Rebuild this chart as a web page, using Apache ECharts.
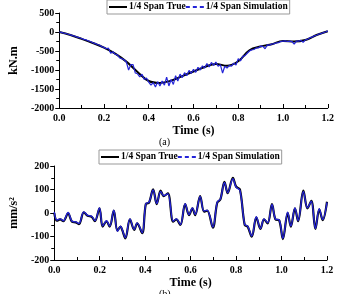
<!DOCTYPE html>
<html>
<head>
<meta charset="utf-8">
<script src="https://cdn.jsdelivr.net/npm/echarts@6/dist/echarts.min.js"></script>
<style>
html, body { margin: 0; padding: 0; background: #fff; }
#chart { width: 337px; height: 294px; }
</style>
</head>
<body>
<div id="chart"></div>
<script>
// (a) moment, kN.m
let momentTrueTime = [0, 0.05, 0.1, 0.15, 0.2, 0.25, 0.3, 0.35, 0.4, 0.45, 0.5, 0.55, 0.6,
    0.65, 0.7, 0.75, 0.8, 0.85, 0.9, 0.95, 1.0, 1.05, 1.1, 1.15, 1.2];
let momentTrue = [0, -80, -180, -290, -410, -570, -780, -1050, -1290, -1340, -1280, -1160, -1040,
    -920, -840, -890, -770, -480, -380, -320, -240, -250, -210, -80, 20];
// simulation sampled every 0.01 s
let momentSim = [
    0, -10, -30, -40, -60, -75, -95, -110, -135, -150,
    -170, -195, -205, -235, -250, -285, -300, -330, -345, -385,
    -405, -440, -425, -560, -520, -585, -600, -680, -700, -730,
    -790, -1000, -860, -860, -1080, -1100, -1180, -1110, -1250, -1210,
    -1320, -1400, -1330, -1450, -1310, -1420, -1290, -1400, -1190, -1420,
    -1250, -1380, -1150, -1290, -1110, -1200, -1070, -1150, -1010, -1090,
    -980, -1060, -930, -1000, -890, -950, -830, -920, -800, -880,
    -790, -900, -860, -1080, -900, -950, -880, -900, -820, -870,
    -700, -760, -640, -620, -560, -500, -470, -460, -420, -420,
    -370, -380, -440, -340, -345, -315, -310, -285, -280, -250,
    -240, -235, -250, -240, -250, -320, -240, -240, -220, -270,
    -205, -190, -150, -135, -100, -85, -55, -45, -15, 0,
    30];

// (b) acceleration, mm/s2
let accTime = [0, 0.012, 0.026, 0.04, 0.061, 0.078, 0.095, 0.109, 0.13, 0.147, 0.165, 0.179,
    0.199, 0.213, 0.23, 0.244, 0.262, 0.278, 0.292, 0.299, 0.313, 0.333, 0.352, 0.365,
    0.387, 0.403, 0.417, 0.435, 0.451, 0.468, 0.482, 0.5, 0.523, 0.537, 0.555, 0.576,
    0.593, 0.608, 0.62, 0.642, 0.659, 0.673, 0.698, 0.717, 0.731, 0.749, 0.763, 0.786,
    0.8, 0.817, 0.838, 0.851, 0.869, 0.889, 0.907, 0.923, 0.939, 0.958, 0.973, 0.99,
    1.006, 1.027, 1.041, 1.059, 1.073, 1.096, 1.114, 1.131, 1.149, 1.166, 1.181, 1.2];
let accTrue = [0, -33, -27, -35, -1, -37, -40, -47, 3, -12, -16, -35,
    20, -58, -35, -58, 10, -75, -58, -72, -108, -27, -72, -44,
    -86, 38, 44, 101, 38, 95, 72, 84, -37, -27, -51, 38,
    -9, 20, -9, 72, 6, 10, -62, 44, 58, 133, 84, 150,
    112, 100, -51, -58, -101, -18, -68, -27, -44, 38, -27, -32,
    -111, 1, -58, 20, -35, 95, 20, 52, -68, 16, -30, 48];
let accSim = [5, -30, -25, -33, 2, -35, -38, -45, 5, -10, -14, -33,
    22, -55, -33, -56, 12, -78, -56, -70, -105, -25, -70, -42,
    -84, 40, 46, 98, 40, 92, 74, 82, -35, -25, -49, 40,
    -7, 22, -7, 70, 8, 12, -60, 46, 60, 130, 86, 146,
    110, 96, -49, -56, -98, -16, -66, -25, -42, 36, -25, -30,
    -108, 3, -56, 22, -33, 92, 22, 50, -66, 18, -28, 45];

let xTicks = [0, 0.2, 0.4, 0.6, 0.8, 1.0, 1.2];
let names = ['1/4 Span True', '1/4 Span Simulation'];

const FONT = 'Liberation Serif';
const BLUE = '#2424d8';

function xAxisOf(gridIndex){
    return {
        type: 'value',
        gridIndex: gridIndex,
        min: 0,
        max: 1.2,
        interval: 0.2,
        name: 'Time (s)',
        nameLocation: 'middle',
        nameGap: 17,
        nameTextStyle: { fontFamily: FONT, fontWeight: 'bold', fontSize: 12, color: '#000' },
        axisLine: { onZero: false, lineStyle: { color: '#000', width: 1 } },
        axisTick: { inside: true, length: 4, lineStyle: { color: '#000' } },
        minorTick: { show: true, splitNumber: 2, length: 3, lineStyle: { color: '#000' } },
        splitLine: { show: false },
        axisLabel: {
            fontFamily: FONT, fontWeight: 'bold', fontSize: 10, color: '#000', margin: 5,
            formatter: v => xTicks.some(t => Math.abs(t - v) < 1e-6) ? v.toFixed(1) : ''
        }
    };
}

function yAxisOf(gridIndex, min, max, interval, name){
    return {
        type: 'value',
        gridIndex: gridIndex,
        min: min,
        max: max,
        interval: interval,
        name: name,
        nameLocation: 'middle',
        nameGap: 27,
        nameTextStyle: { fontFamily: FONT, fontWeight: 'bold', fontSize: 12, color: '#000' },
        axisLine: { show: true, onZero: false, lineStyle: { color: '#000', width: 1 } },
        axisTick: { length: 4, lineStyle: { color: '#000' } },
        minorTick: { show: true, splitNumber: 2, length: 3, lineStyle: { color: '#000' } },
        splitLine: { show: false },
        axisLabel: {
            fontFamily: FONT, fontWeight: 'bold', fontSize: 10, color: '#000', margin: 5,
            formatter: v => String(v)
        }
    };
}

function legendOf(left, top){
    return {
        left: left,
        top: top,
        itemWidth: 18,
        itemHeight: 2,
        itemGap: 0,
        padding: [2, 2],
        borderColor: '#999',
        borderWidth: 1,
        textStyle: { fontFamily: FONT, fontWeight: 'bold', fontSize: 9.5, color: '#000', padding: [0, 0, 0, -3] },
        data: [
            { name: names[0], icon: 'rect' },
            { name: names[1], icon: 'path://M0,0H4V2H0Z M7,0H11V2H7Z M14,0H18V2H14Z' }
        ]
    };
}

let chart = echarts.init(document.getElementById('chart'), null, { renderer: 'canvas' });
let option = {
    animation: false,
    backgroundColor: '#fff',
    grid: [
        { left: 40, top: 13, width: 289, height: 95 },
        { left: 38, top: 166, width: 289, height: 94 }
    ],
    legend: [legendOf(107, 0), legendOf(99, 150)],
    xAxis: [xAxisOf(0), xAxisOf(1)],
    yAxis: [
        yAxisOf(0, -2000, 500, 500, 'kN.m'),
        yAxisOf(1, -200, 200, 100, 'mm/s²')
    ],
    graphic: [
        { type: 'text', left: 159, top: 137, style: { text: '(a)', font: '10px "Liberation Serif"', fill: '#000' } },
        { type: 'text', left: 159, top: 289, style: { text: '(b)', font: '10px "Liberation Serif"', fill: '#000' } }
    ],
    series: [
        {
            name: names[0], type: 'line', xAxisIndex: 0, yAxisIndex: 0,
            symbol: 'none', smooth: 0.4, z: 2,
            lineStyle: { color: '#000', width: 2 }, itemStyle: { color: '#000' },
            data: momentTrueTime.map((t, i) => [t, momentTrue[i]])
        },
        {
            name: names[1], type: 'line', xAxisIndex: 0, yAxisIndex: 0,
            symbol: 'none', z: 3,
            lineStyle: { color: BLUE, width: 1.2 }, itemStyle: { color: BLUE },
            data: momentSim.map((v, i) => [i / 100, v])
        },
        {
            name: names[0], type: 'line', xAxisIndex: 1, yAxisIndex: 1,
            symbol: 'none', smooth: 0.35, z: 2,
            lineStyle: { color: '#000', width: 2.2 }, itemStyle: { color: '#000' },
            data: accTime.map((t, i) => [t, accTrue[i]])
        },
        {
            name: names[1], type: 'line', xAxisIndex: 1, yAxisIndex: 1,
            symbol: 'none', smooth: 0.35, z: 3,
            lineStyle: { color: BLUE, width: 1.4 }, itemStyle: { color: BLUE },
            data: accTime.map((t, i) => [t, accSim[i]])
        }
    ]
};
chart.setOption(option);
</script>
</body>
</html>
